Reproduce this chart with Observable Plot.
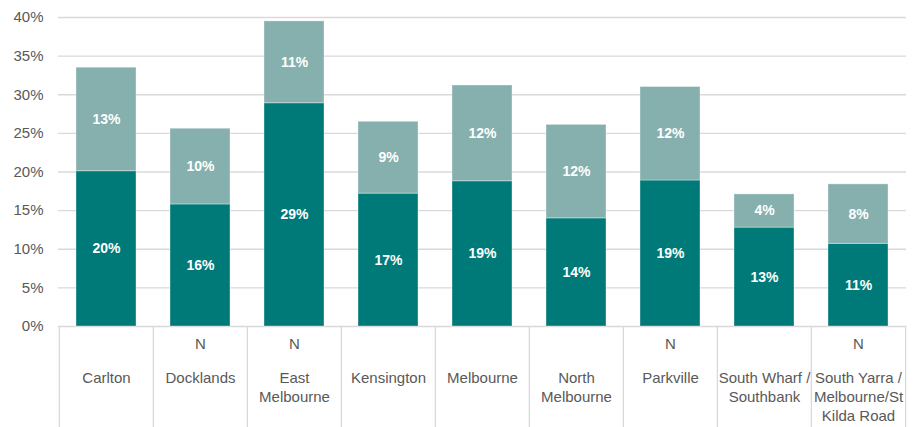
<!DOCTYPE html>
<html>
<head>
<meta charset="utf-8">
<script src="https://cdn.jsdelivr.net/npm/d3@7"></script>
<script src="https://cdn.jsdelivr.net/npm/@observablehq/plot@0.6"></script>
<style>
  html, body { margin: 0; padding: 0; background: #fff; }
  #chart svg { display: block; }
</style>
</head>
<body>
<div id="chart"></div>
<script>
const categories = ["Carlton", "Docklands", "East Melbourne", "Kensington", "Melbourne", "North Melbourne", "Parkville", "South Wharf / Southbank", "South Yarra / Melbourne/St Kilda Road"];
const axisLabels = ["Carlton", "Docklands", "East\nMelbourne", "Kensington", "Melbourne", "North\nMelbourne", "Parkville", "South Wharf /\nSouthbank", "South Yarra /\nMelbourne/St\nKilda Road"];
const flags = ["", "N", "N", "", "", "", "N", "", "N"];
const darkValues = [20.1, 15.8, 28.9, 17.2, 18.8, 14.0, 18.9, 12.8, 10.7];
const lightValues = [13.4, 9.8, 10.6, 9.3, 12.4, 12.1, 12.1, 4.3, 7.7];
const yTicks = [0, 5, 10, 15, 20, 25, 30, 35, 40];

const colors = {dark: "#007A78", light: "#86B0AE"};

const rows = [];
categories.forEach((c, i) => {
  rows.push({cat: c, series: "dark", value: darkValues[i]});
  rows.push({cat: c, series: "light", value: lightValues[i]});
});
const catInfo = categories.map((c, i) => ({cat: c, label: axisLabels[i], flag: flags[i]}));

const W = 920, H = 427;
const mL = 58, mR = 14, mT = 17, mB = 101;
const step = (W - mL - mR) / categories.length;

const font = "Liberation Sans, Arial, sans-serif";

const chart = Plot.plot({
  width: W,
  height: H,
  marginLeft: mL,
  marginRight: mR,
  marginTop: mT,
  marginBottom: mB,
  style: {fontFamily: font, background: "#fff", overflow: "visible"},
  x: {domain: categories, paddingInner: 0.36, paddingOuter: 0.18, axis: null},
  y: {domain: [0, 40], ticks: yTicks, axis: null},
  color: {domain: ["dark", "light"], range: [colors.dark, colors.light]},
  marks: [
    Plot.gridY(yTicks, {stroke: "#d9d9d9", strokeOpacity: 1, strokeWidth: 1.3}),
    Plot.axisY(yTicks, {label: null, tickSize: 0, tickPadding: 15, tickFormat: d => d + "%", fontSize: 15, fill: "#595959", textStroke: "none"}),
    Plot.barY(rows, Plot.stackY({x: "cat", y: "value", z: "series", fill: "series", order: ["dark", "light"], stroke: "#ffffff", strokeOpacity: 0.35, strokeWidth: 1})),
    Plot.text(rows, Plot.stackY({x: "cat", y: "value", z: "series", order: ["dark", "light"], text: d => Math.round(d.value) + "%", fill: "white", fontWeight: "bold", fontSize: 14})),
    // category box separators
    Plot.ruleX(catInfo, {x: "cat", y1: 0, y2: -13.2, dx: -step / 2, stroke: "#d9d9d9", strokeWidth: 1.3}),
    Plot.ruleX(catInfo.slice(-1), {x: "cat", y1: 0, y2: -13.2, dx: step / 2, stroke: "#d9d9d9", strokeWidth: 1.3}),
    Plot.text(catInfo, {x: "cat", text: "flag", frameAnchor: "bottom", lineAnchor: "top", dy: 12, fontSize: 15, fill: "#595959"}),
    Plot.text(catInfo, {x: "cat", text: "label", frameAnchor: "bottom", lineAnchor: "top", dy: 43, fontSize: 15, lineHeight: 1.27, fill: "#595959"})
  ]
});
document.getElementById("chart").appendChild(chart);
</script>
</body>
</html>
